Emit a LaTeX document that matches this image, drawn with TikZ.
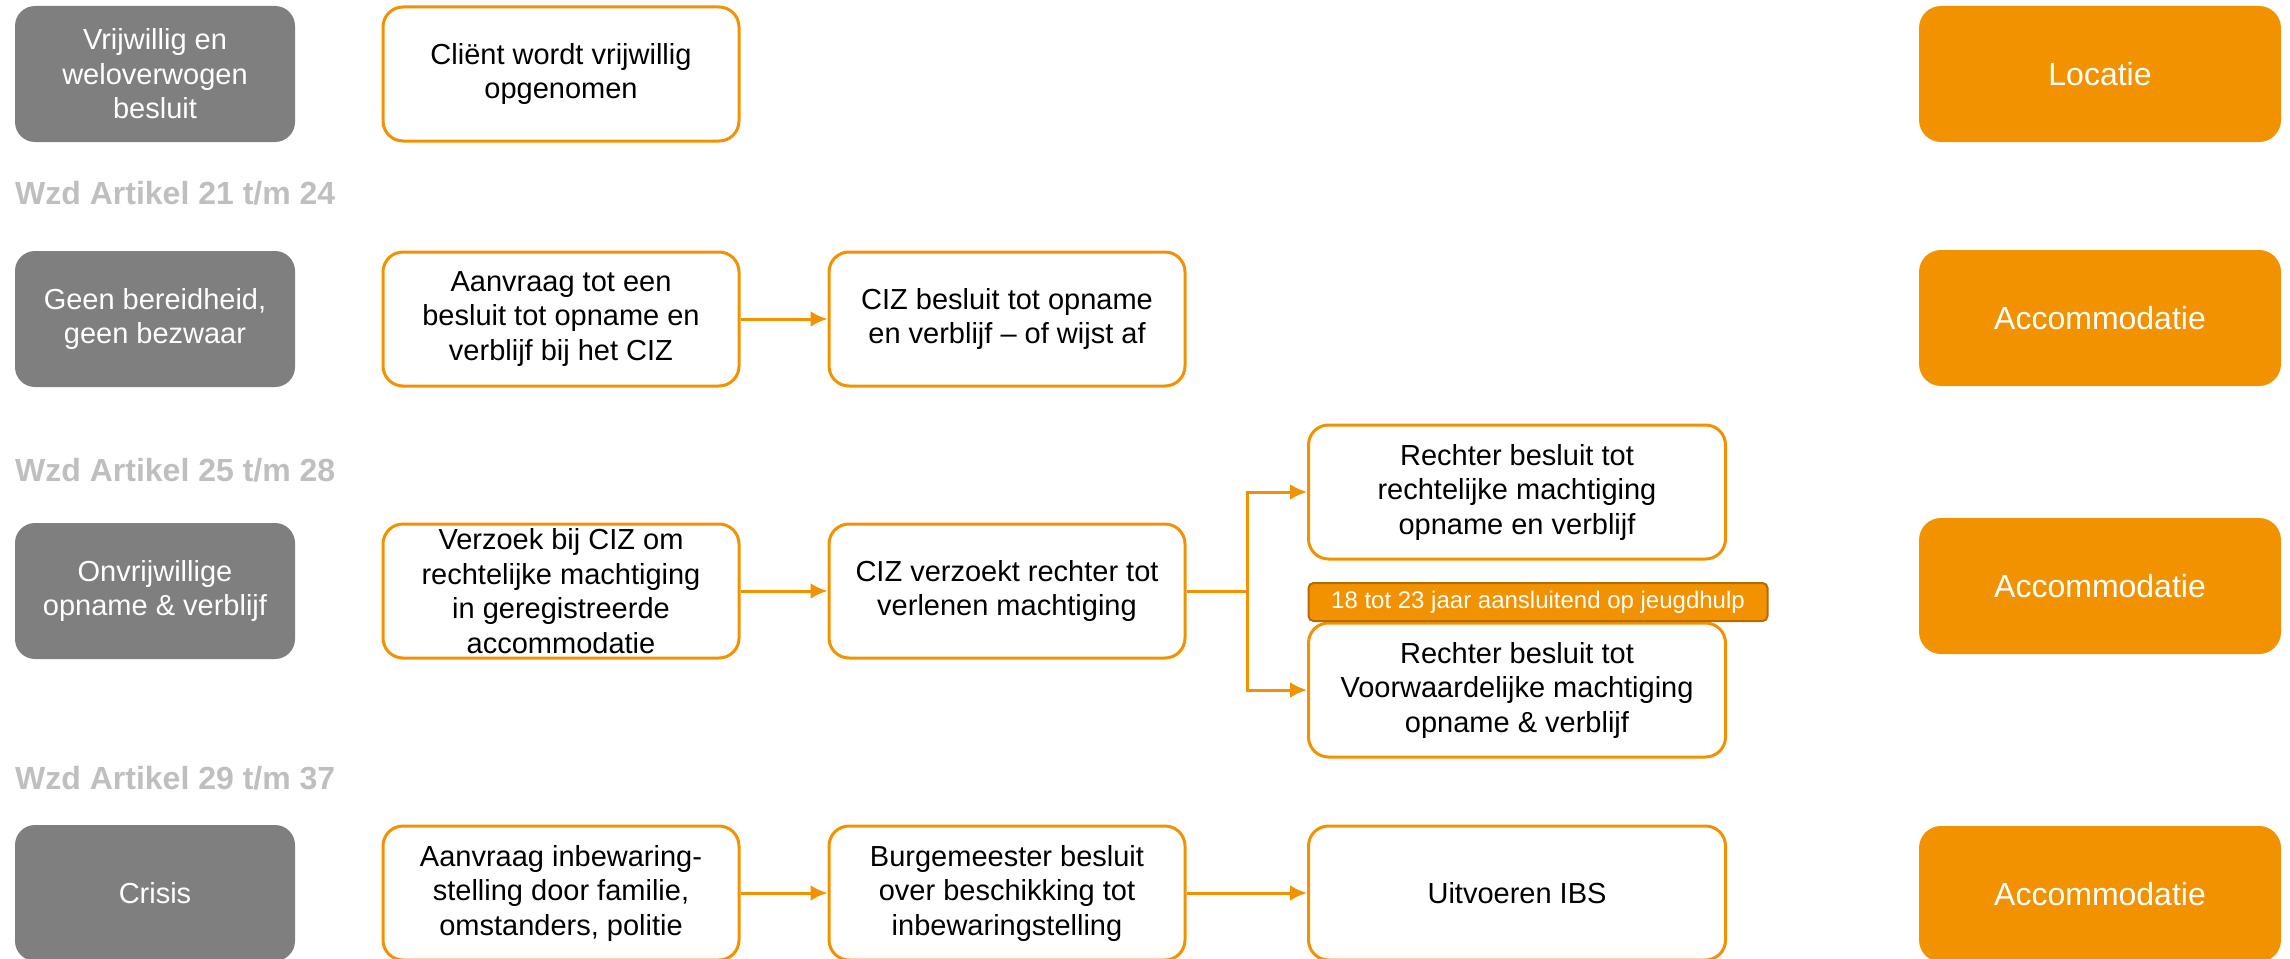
\documentclass[tikz,border=0pt]{standalone}
\usepackage{fontspec}
\setmainfont{Liberation Sans}
\usepackage{xcolor}
\usepackage{tikz}
\usetikzlibrary{arrows.meta}
\definecolor{wzdorange}{HTML}{F39200}
\definecolor{wzdgray}{HTML}{7F7F7F}
\definecolor{wzdlight}{HTML}{BFBFBF}
\definecolor{wzdbrown}{HTML}{B46C00}
\tikzset{>={Latex[length=17pt,width=16pt]},
    situation/.style={fill=wzdgray, text=white, rounded corners=20pt, minimum width=280pt,
      minimum height=136pt, inner sep=0pt, align=center, font=\fontsize{29}{34.5}\selectfont},
    stepbox/.style={draw=wzdorange, line width=3pt, fill=white, rounded corners=20pt,
      minimum width=#1, minimum height=134pt, inner sep=0pt, align=center,
      font=\fontsize{29}{34.5}\selectfont},
    stepbox/.default=356pt,
    place/.style={fill=wzdorange, text=white, rounded corners=22pt, minimum width=362pt,
      minimum height=136pt, font=\fontsize{32}{38}\selectfont},
    badge/.style={fill=wzdorange, draw=wzdbrown, line width=2pt, rounded corners=5pt, text=white,
      minimum width=459pt, minimum height=38pt, inner sep=0pt, font=\fontsize{24}{28}\selectfont},
    article/.style={text=wzdlight, anchor=west, inner sep=0pt, font=\bfseries\fontsize{32}{38}\selectfont},
    flow/.style={draw=wzdorange, line width=3pt, ->}}

\begin{document}
\begin{tikzpicture}[x=1pt, y=-1pt]
    \useasboundingbox (0,0) rectangle (2290,958);
    \node[situation] (vrijwillig) at (155,74) {Vrijwillig en\\weloverwogen\\besluit};
    \node[situation] (geenbezwaar) at (155,319) {Geen bereidheid,\\geen bezwaar};
    \node[situation] (onvrijwillig) at (155,591) {Onvrijwillige\\opname \& verblijf};
    \node[situation] (crisis) at (155,893) {Crisis};
    \foreach \y/\nr [count=\i] in {193/{21 t/m 24}, 470/{25 t/m 28}, 778/{29 t/m 37}}
      \node[article] (artikel\i) at (15,\y) {Wzd Artikel \nr};
    \node[stepbox] (opgenomen) at (561,74) {Cliënt wordt vrijwillig\\opgenomen};
    \node[stepbox] (aanvraag) at (561,319) {Aanvraag tot een\\besluit tot opname en\\verblijf bij het CIZ};
    \node[stepbox] (cizbesluit) at (1007,319) {CIZ besluit tot opname\\en verblijf – of wijst af};
    \node[stepbox] (verzoek) at (561,591) {Verzoek bij CIZ om\\rechtelijke machtiging\\in geregistreerde\\accommodatie};
    \node[stepbox] (cizverzoek) at (1007,591) {CIZ verzoekt rechter tot\\verlenen machtiging};
    \node[stepbox=417pt] (machtiging) at (1517,492) {Rechter besluit tot\\rechtelijke machtiging\\opname en verblijf};
    \node[stepbox=417pt] (voorwaardelijk) at (1517,690) {Rechter besluit tot\\Voorwaardelijke machtiging\\opname \& verblijf};
    \node[badge] (jeugdhulp) at (1538,602) {18 tot 23 jaar aansluitend op jeugdhulp};
    \node[stepbox] (ibsaanvraag) at (561,893) {Aanvraag inbewaring-\\stelling door familie,\\omstanders, politie};
    \node[stepbox] (burgemeester) at (1007,893) {Burgemeester besluit\\over beschikking tot\\inbewaringstelling};
    \node[stepbox=417pt] (ibs) at (1517,893) {Uitvoeren IBS};
    \foreach \y/\plek [count=\i] in {74/Locatie, 318/Accommodatie, 586/Accommodatie, 894/Accommodatie}
      \node[place] (plek\i) at (2100,\y) {\plek};
    % pijlen
    \draw[flow] (aanvraag) -- (cizbesluit);
    \draw[flow] (verzoek) -- (cizverzoek);
    \draw[flow] (cizverzoek.east) -- ++(61,0) |- (machtiging.west);
    \draw[flow] (cizverzoek.east) -- ++(61,0) |- (voorwaardelijk.west);
    \draw[flow] (ibsaanvraag) -- (burgemeester);
    \draw[flow] (burgemeester) -- (ibs);
\end{tikzpicture}
\end{document}
